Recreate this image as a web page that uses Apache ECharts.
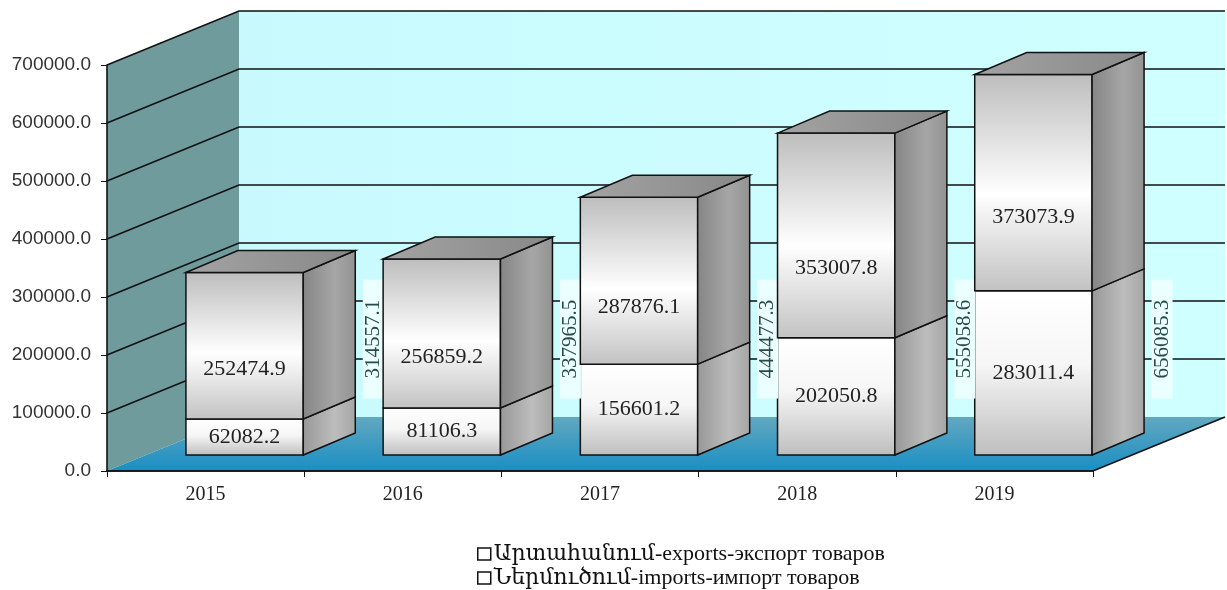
<!DOCTYPE html>
<html>
<head>
<meta charset="utf-8">
<script src="https://cdn.jsdelivr.net/npm/echarts@6/dist/echarts.min.js"></script>
<style>
html,body{margin:0;padding:0;background:#fff;}
#chart{width:1227px;height:590px;}
</style>
</head>
<body>
<div id="chart"></div>
<script>
// ---- data ----
const years = ['2015', '2016', '2017', '2018', '2019'];
const exportsVals = [62082.2, 81106.3, 156601.2, 202050.8, 283011.4];
const importsVals = [252474.9, 256859.2, 287876.1, 353007.8, 373073.9];
const totals = [314557.1, 337965.5, 444477.3, 555058.6, 656085.3];
const seriesNames = ['Արտահանում-exports-экспорт товаров', 'Ներմուծում-imports-импорт товаров'];
const yMax = 700000;
const yStep = 100000;

// ---- 3D look constants (pixels) ----
const WALL_DX = 132, WALL_DY = -54;   // depth of the chart box
const BAR_SX = 39, BAR_SY = -16;      // bars set back into the box
const BAR_DX = 52, BAR_DY = -22;      // bar depth
const BAR_W_FRAC = 0.595;             // bar width as fraction of category width
const SERIF = '"Liberation Serif","DejaVu Serif","Times New Roman",serif';
const SANS = '"Liberation Sans","DejaVu Sans",Arial,sans-serif';

const chart = echarts.init(document.getElementById('chart'), null, {renderer: 'canvas'});

function fmt(v) { return v.toFixed(1); }

function renderWalls(params, api) {
  const cs = params.coordSys;
  const x0 = cs.x, x1 = cs.x + cs.width;
  const yb = api.coord([0, 0])[1];
  const yt = api.coord([0, yMax])[1];
  const ch = [];
  // back wall
  ch.push({type: 'rect', shape: {x: x0 + WALL_DX, y: yt + WALL_DY, width: x1 - x0, height: yb - yt},
    style: {fill: {type: 'linear', x: 0, y: 0, x2: 1, y2: 0, colorStops: [{offset: 0, color: '#C8FAFD'}, {offset: 1, color: '#D0FFFF'}]}}});
  // side wall
  ch.push({type: 'polygon', shape: {points: [[x0, yt], [x0 + WALL_DX, yt + WALL_DY], [x0 + WALL_DX, yb + WALL_DY], [x0, yb]]},
    style: {fill: '#6F9B9C'}});
  // floor
  ch.push({type: 'polygon', shape: {points: [[x0, yb], [x0 + WALL_DX, yb + WALL_DY], [x1 + WALL_DX, yb + WALL_DY], [x1, yb]]},
    style: {fill: {type: 'linear', x: 0, y: 0, x2: 0, y2: 1, colorStops: [{offset: 0, color: '#62A8BF'}, {offset: 1, color: '#1A8EC4'}]}}});
  ch.push({type: 'polyline', shape: {points: [[x0, yb], [x1, yb], [x1 + WALL_DX, yb + WALL_DY]]},
    style: {stroke: '#111', lineWidth: 1.6, fill: null}});
  // gridlines
  for (let v = yStep; v <= yMax; v += yStep) {
    const y = api.coord([0, v])[1];
    ch.push({type: 'polyline', shape: {points: [[x0, y], [x0 + WALL_DX, y + WALL_DY], [x1 + WALL_DX, y + WALL_DY]]},
      style: {stroke: '#111', lineWidth: 1.6, fill: null}});
  }
  return {type: 'group', children: ch};
}

function makeBarRenderer(isTop) {
  return function (params, api) {
    const i = api.value(0), v0 = api.value(1), v1 = api.value(2);
    const catW = api.size([1, 0])[0];
    const half = catW * BAR_W_FRAC / 2;
    const cx = api.coord([i, 0])[0] + BAR_SX;
    const yTop = api.coord([i, v1])[1] + BAR_SY;
    const yBot = api.coord([i, v0])[1] + BAR_SY;
    const xl = cx - half, xr = cx + half;
    const ch = [];
    const frontFill = isTop
      ? {type: 'linear', x: 0, y: 0, x2: 0, y2: 1, colorStops: [{offset: 0, color: '#BDBDBD'}, {offset: 0.55, color: '#FFFFFF'}, {offset: 1, color: '#C2C2C2'}]}
      : {type: 'linear', x: 0, y: 0, x2: 0, y2: 1, colorStops: [{offset: 0, color: '#FFFFFF'}, {offset: 0.45, color: '#F6F6F6'}, {offset: 1, color: '#BEBEBE'}]};
    const sideFill = isTop
      ? {type: 'linear', x: 0, y: 0, x2: 1, y2: 0, colorStops: [{offset: 0, color: '#858585'}, {offset: 0.6, color: '#A6A6A6'}, {offset: 1, color: '#929292'}]}
      : {type: 'linear', x: 0, y: 0, x2: 1, y2: 0, colorStops: [{offset: 0, color: '#979797'}, {offset: 0.6, color: '#BDBDBD'}, {offset: 1, color: '#A5A5A5'}]};
    ch.push({type: 'rect', shape: {x: xl, y: yTop, width: xr - xl, height: yBot - yTop},
      style: {fill: frontFill, stroke: '#111', lineWidth: 1.5}});
    ch.push({type: 'polygon', shape: {points: [[xr, yTop], [xr + BAR_DX, yTop + BAR_DY], [xr + BAR_DX, yBot + BAR_DY], [xr, yBot]]},
      style: {fill: sideFill, stroke: '#111', lineWidth: 1.5}});
    if (isTop) {
      ch.push({type: 'polygon', shape: {points: [[xl, yTop], [xl + BAR_DX, yTop + BAR_DY], [xr + BAR_DX, yTop + BAR_DY], [xr, yTop]]},
        style: {fill: {type: 'linear', x: 0, y: 0, x2: 1, y2: 0, colorStops: [{offset: 0, color: '#A3A3A3'}, {offset: 1, color: '#888888'}]}, stroke: '#111', lineWidth: 1.5}});
    }
    // segment value label
    const labY = isTop ? api.coord([i, v0 + (v1 - v0) * 0.34])[1] + BAR_SY : (yTop + yBot) / 2;
    ch.push({type: 'text', x: cx, y: labY,
      style: {text: fmt(v1 - v0), fontSize: 22, fontFamily: SERIF, fill: '#222', align: 'center', verticalAlign: 'middle'}});
    // total label
    if (isTop) {
      const tot = api.value(3);
      const ty = api.coord([i, 200000])[1] + BAR_SY;
      ch.push({type: 'text', x: xr + BAR_DX + 18, y: ty, rotation: Math.PI / 2,
        style: {text: fmt(tot), fontSize: 21, fontFamily: SERIF, fill: '#274A4A', align: 'center', verticalAlign: 'middle',
          backgroundColor: '#ECFFFF', padding: [0, 20]}});
    }
    return {type: 'group', children: ch};
  };
}

const option = {
  animation: false,
  backgroundColor: '#fff',
  grid: {left: 107, right: 134, top: 65, bottom: 119, containLabel: false},
  xAxis: {
    type: 'category', data: years, z: 10,
    axisLine: {show: true, lineStyle: {color: '#111', width: 1.6}},
    axisTick: {show: true, length: 6, lineStyle: {color: '#111'}},
    axisLabel: {fontSize: 20, fontFamily: SERIF, color: '#222', margin: 14},
    splitLine: {show: false}
  },
  yAxis: {
    type: 'value', min: 0, max: yMax, interval: yStep, z: 10,
    axisLine: {show: true, lineStyle: {color: '#111', width: 1.6}},
    axisTick: {show: true, length: 6, lineStyle: {color: '#111'}},
    axisLabel: {fontSize: 19, fontFamily: SANS, color: '#333', margin: 16, formatter: v => v.toFixed(1)},
    splitLine: {show: false}
  },
  legend: {
    orient: 'vertical', left: 472, top: 538, width: 500, height: 80,
    itemWidth: 13, itemHeight: 12, itemGap: 2,
    icon: 'rect',
    textStyle: {fontSize: 22, lineHeight: 22, fontFamily: SERIF, color: '#111', padding: [0, 0, 0, -2]},
    data: seriesNames.map(n => ({name: n, itemStyle: {color: '#fff', borderColor: '#111', borderWidth: 1.5}}))
  },
  series: [
    {type: 'custom', name: 'walls', z: 1, silent: true, clip: false, renderItem: renderWalls, data: [[0]]},
    {type: 'custom', name: seriesNames[0], z: 3, clip: false, renderItem: makeBarRenderer(false),
      itemStyle: {color: '#fff'},
      data: years.map((y, i) => [i, 0, exportsVals[i]])},
    {type: 'custom', name: seriesNames[1], z: 3, clip: false, renderItem: makeBarRenderer(true),
      itemStyle: {color: '#fff'},
      data: years.map((y, i) => [i, exportsVals[i], exportsVals[i] + importsVals[i], totals[i]])}
  ]
};
chart.setOption(option);
</script>
</body>
</html>
